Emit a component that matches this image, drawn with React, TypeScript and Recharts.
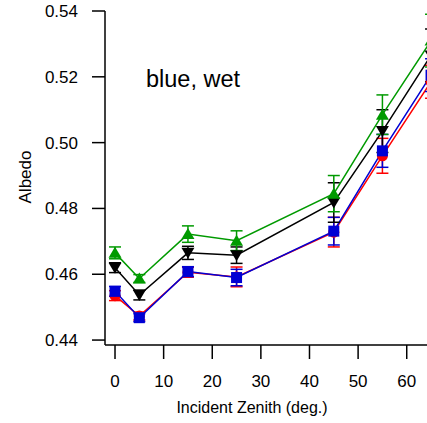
import React from 'react';
import { LineChart, Line, XAxis, YAxis, ErrorBar, Customized } from 'recharts';

// incident zenith angle (deg.)
const angles = [0, 5, 15, 25, 45, 55, 65];

const redAlbedo = [0.4535, 0.4473, 0.4606, 0.4592, 0.4728, 0.496, 0.5185];
const redErr = [0.0015, 0.0012, 0.0015, 0.003, 0.0045, 0.0053, 0.005];

const blueAlbedo = [0.4548, 0.4468, 0.4608, 0.459, 0.4731, 0.4975, 0.5205];
const blueErr = [0.0015, 0.0012, 0.0015, 0.0025, 0.0042, 0.005, 0.005];

const blackAlbedo = [0.462, 0.4537, 0.4665, 0.4658, 0.4818, 0.5035, 0.5265];
const blackErr = [0.0015, 0.0015, 0.002, 0.0025, 0.006, 0.0065, 0.008];

const greenAlbedo = [0.4665, 0.4587, 0.4722, 0.4702, 0.4845, 0.5085, 0.531];
const greenErr = [0.0018, 0.0012, 0.0025, 0.003, 0.0055, 0.006, 0.008];

const xTicks = [0, 10, 20, 30, 40, 50, 60];
const yTicks = [0.44, 0.46, 0.48, 0.5, 0.52, 0.54];

const RED = '#ff0000';
const BLUE = '#0000d4';
const BLACK = '#000000';
const GREEN = '#009a00';

const data = angles.map((a, i) => ({
  angle: a,
  red: redAlbedo[i],
  redErr: redErr[i],
  blue: blueAlbedo[i],
  blueErr: blueErr[i],
  black: blackAlbedo[i],
  blackErr: blackErr[i],
  green: greenAlbedo[i],
  greenErr: greenErr[i],
}));

const circleDot = (p: any) => (
  <circle key={p.index} cx={p.cx} cy={p.cy} r={5.5} fill={RED} />
);
const squareDot = (p: any) => (
  <rect key={p.index} x={p.cx - 5.5} y={p.cy - 5.5} width={11} height={11} fill={BLUE} />
);
const downDot = (p: any) => (
  <path key={p.index} d={`M${p.cx - 6.5},${p.cy - 5} L${p.cx + 6.5},${p.cy - 5} L${p.cx},${p.cy + 6} Z`} fill={BLACK} />
);
const upDot = (p: any) => (
  <path key={p.index} d={`M${p.cx - 6.5},${p.cy + 5} L${p.cx + 6.5},${p.cy + 5} L${p.cx},${p.cy - 6} Z`} fill={GREEN} />
);

const font = '"Liberation Sans", Arial, sans-serif';

export default function App() {
  return (
    <div style={{ position: 'absolute', left: 0, top: 0, width: 427, height: 423, overflow: 'hidden', background: '#fff', fontFamily: font }}>
      <LineChart width={427} height={423} data={data} margin={{ top: 11, right: 0, bottom: 0, left: 0 }}>
        <XAxis
          dataKey="angle"
          type="number"
          domain={[-2.06, 64.17]}
          allowDataOverflow
          ticks={xTicks}
          height={78}
          tickSize={14}
          tickMargin={16}
          stroke="#000"
          strokeWidth={1.5}
          tick={{ fill: '#000', fontSize: 17, fontFamily: font }}
          label={{
            content: () => (
              <text x={252} y={413} textAnchor="middle" fontSize={16} fontFamily={font} fill="#000">
                Incident Zenith (deg.)
              </text>
            ),
          }}
        />
        <YAxis
          type="number"
          domain={[0.4385, 0.54]}
          allowDataOverflow
          ticks={yTicks}
          width={105}
          tickSize={13}
          tickMargin={14}
          stroke="#000"
          strokeWidth={1.5}
          tickFormatter={(v: number) => v.toFixed(2)}
          tick={{ fill: '#000', fontSize: 17, fontFamily: font }}
          label={{
            content: () => (
              <text x={31} y={177} textAnchor="middle" fontSize={17} fontFamily={font} fill="#000" transform="rotate(-90 31 177)">
                Albedo
              </text>
            ),
          }}
        />
        <Line dataKey="red" stroke={RED} strokeWidth={1.5} dot={circleDot} isAnimationActive={false}>
          <ErrorBar dataKey="redErr" direction="y" width={6} stroke={RED} strokeWidth={1.5} />
        </Line>
        <Line dataKey="blue" stroke={BLUE} strokeWidth={1.5} dot={squareDot} isAnimationActive={false}>
          <ErrorBar dataKey="blueErr" direction="y" width={6} stroke={BLUE} strokeWidth={1.5} />
        </Line>
        <Line dataKey="black" stroke={BLACK} strokeWidth={1.5} dot={downDot} isAnimationActive={false}>
          <ErrorBar dataKey="blackErr" direction="y" width={6} stroke={BLACK} strokeWidth={1.5} />
        </Line>
        <Line dataKey="green" stroke={GREEN} strokeWidth={1.5} dot={upDot} isAnimationActive={false}>
          <ErrorBar dataKey="greenErr" direction="y" width={6} stroke={GREEN} strokeWidth={1.5} />
        </Line>
        <Customized
          component={() => (
            <text x={146} y={87} fontSize={23.5} fontFamily={font} fill="#000">
              blue, wet
            </text>
          )}
        />
      </LineChart>
    </div>
  );
}
